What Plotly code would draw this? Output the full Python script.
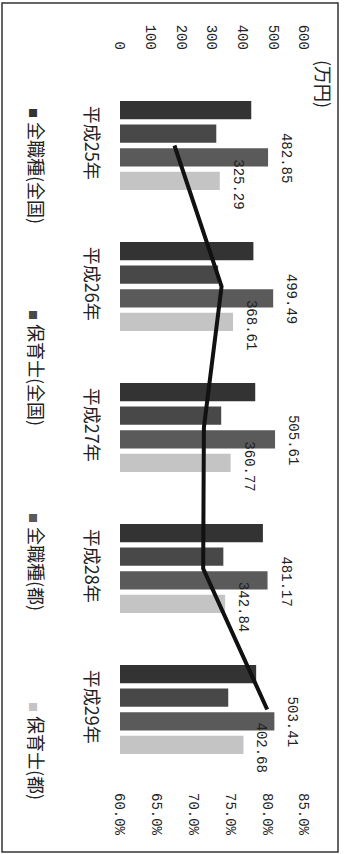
import plotly.graph_objects as go

categories = ["平成25年", "平成26年", "平成27年", "平成28年", "平成29年"]
series_names = ["全職種(全国)", "保育士(全国)", "全職種(都)", "保育士(都)"]
all_jobs_national = [428, 435, 441, 466, 444]
childcare_national = [314, 320, 330, 337, 353]
all_jobs_tokyo = [482.85, 499.49, 505.61, 481.17, 503.41]
childcare_tokyo = [325.29, 368.61, 360.77, 342.84, 402.68]
ratio_pct = [67.4, 73.8, 71.4, 71.3, 80.0]
value_ticks = [0, 100, 200, 300, 400, 500, 600]
pct_ticks = [60, 65, 70, 75, 80, 85]
pct_labels = ["60.0%", "65.0%", "70.0%", "75.0%", "80.0%", "85.0%"]

colors = ["#333333", "#484848", "#5a5a5a", "#c4c4c4"]
series = [all_jobs_national, childcare_national, all_jobs_tokyo, childcare_tokyo]

W, H = 344, 854
ML, MR, MT, MB = 120, 40, 75, 74
PW, PH = W - ML - MR, H - MT - MB


def px(x):
    return (x - ML) / PW


def py(y):
    return (H - MB - y) / PH


MONO = "Liberation Mono"
CJK = "Noto Sans CJK JP"

fig = go.Figure()
for name, vals, c in zip(series_names, series, colors):
    fig.add_trace(go.Bar(
        x=vals, y=categories, orientation="h", name=name,
        marker=dict(color=c, line=dict(width=0)),
        xaxis="x", yaxis="y", showlegend=False,
    ))

fig.add_trace(go.Scatter(
    x=ratio_pct, y=categories, mode="lines",
    line=dict(color="#111111", width=4),
    xaxis="x2", yaxis="y", showlegend=False,
))

annotations = []
# data labels for Tokyo series
for vals, ysh in [(all_jobs_tokyo, -12.5), (childcare_tokyo, -38.5)]:
    for cat, v in zip(categories, vals):
        annotations.append(dict(
            x=v, y=cat, xref="x", yref="y", text=f"{v:.2f}",
            textangle=90, showarrow=False, xshift=18, yshift=ysh,
            xanchor="center", yanchor="middle",
            font=dict(family=MONO, size=14, color="#222"),
        ))

# unit label
annotations.append(dict(
    x=px(324), y=py(84), xref="paper", yref="paper", text="(万円)",
    textangle=90, showarrow=False, xanchor="center", yanchor="middle",
    font=dict(family=CJK, size=18, color="#222"),
))

# legend
legend_y = [166, 368, 562, 751]
for name, c, ly in zip(series_names, colors, legend_y):
    annotations.append(dict(
        x=px(37), y=py(ly), xref="paper", yref="paper",
        text=f"<span style='color:{c};font-size:10px'>■</span> {name}",
        textangle=90, showarrow=False, xanchor="center", yanchor="middle",
        font=dict(family=CJK, size=18, color="#222"),
    ))

shapes = [dict(
    type="rect", xref="paper", yref="paper",
    x0=px(2), x1=px(338), y0=py(852), y1=py(3),
    line=dict(color="#333", width=1.5), layer="below",
)]

fig.update_layout(
    width=W, height=H,
    margin=dict(l=ML, r=MR, t=MT, b=MB, autoexpand=False),
    paper_bgcolor="white", plot_bgcolor="white",
    barmode="group", bargap=0.33, bargroupgap=0.23,
    xaxis=dict(
        range=[0, 600], side="top", tickvals=value_ticks,
        tickangle=90, showgrid=False, zeroline=False, showline=False,
        ticks="", ticklabelstandoff=22, automargin=False,
        tickfont=dict(family=MONO, size=14, color="#222"),
    ),
    xaxis2=dict(
        range=[60, 85], side="bottom", overlaying="x", anchor="y",
        tickvals=pct_ticks, ticktext=pct_labels,
        tickangle=90, showgrid=False, zeroline=False, showline=False,
        ticks="", ticklabelstandoff=12, automargin=False,
        tickfont=dict(family=MONO, size=14, color="#222"),
    ),
    yaxis=dict(
        autorange="reversed", tickangle=90, showgrid=False,
        zeroline=False, showline=False, ticks="", ticklabelstandoff=16,
        automargin=False,
        tickfont=dict(family=CJK, size=18, color="#222"),
    ),
    annotations=annotations,
    shapes=shapes,
)

fig.write_html("out.html", config={"displayModeBar": False},
               post_script="document.body.style.margin='0';document.body.style.padding='0';")
